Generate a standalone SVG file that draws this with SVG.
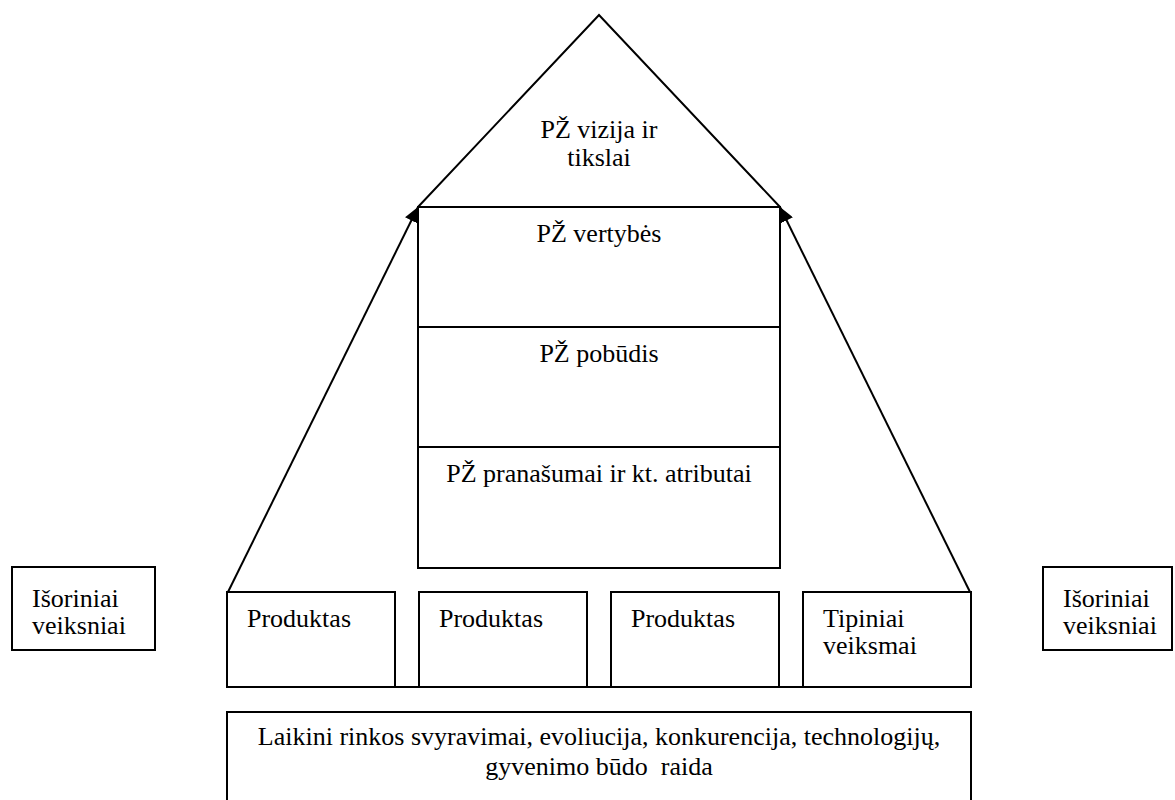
<svg xmlns="http://www.w3.org/2000/svg" width="1175" height="800" viewBox="0 0 1175 800">
<style>
.b{fill:#fff;stroke:#000;stroke-width:2}
.l{fill:none;stroke:#000;stroke-width:2}
text{font-family:"Liberation Serif","Times New Roman",serif;font-size:26px;fill:#000}
.c{text-anchor:middle}
</style>
<defs>
<marker id="ah" markerUnits="userSpaceOnUse" markerWidth="16" markerHeight="14" refX="15" refY="7" orient="auto">
<path d="M0,0 L15,7 L0,14 Z" fill="#000"/>
</marker>
</defs>
<rect width="1175" height="800" fill="#fff"/>
<g id="roof">
<path class="l" d="M418,207 L599,15 L780,207"/>
<text class="c" x="599" y="138">PŽ vizija ir</text>
<text class="c" x="599" y="166">tikslai</text>
</g>
<g id="vertybes">
<rect class="b" x="418" y="207" width="362" height="120"/>
<text class="c" x="599" y="242">PŽ vertybės</text>
</g>
<g id="pobudis">
<rect class="b" x="418" y="327" width="362" height="120"/>
<text class="c" x="599" y="362">PŽ pobūdis</text>
</g>
<g id="pranasumai">
<rect class="b" x="418" y="447" width="362" height="121"/>
<text class="c" x="599" y="482">PŽ pranašumai ir kt. atributai</text>
</g>
<g id="produktas1">
<rect class="b" x="227" y="592" width="168" height="95"/>
<text x="247" y="627">Produktas</text>
</g>
<g id="produktas2">
<rect class="b" x="419" y="592" width="168" height="95"/>
<text x="439" y="627">Produktas</text>
</g>
<g id="produktas3">
<rect class="b" x="611" y="592" width="168" height="95"/>
<text x="631" y="627">Produktas</text>
</g>
<g id="tipiniai">
<rect class="b" x="803" y="592" width="168" height="95"/>
<text x="823" y="627">Tipiniai</text>
<text x="823" y="654">veiksmai</text>
</g>
<g id="isoriniai-kaire">
<rect class="b" x="12" y="567" width="143" height="83"/>
<text x="32" y="607">Išoriniai</text>
<text x="32" y="634">veiksniai</text>
</g>
<g id="isoriniai-desine">
<rect class="b" x="1043" y="567" width="129" height="83"/>
<text x="1063" y="607">Išoriniai</text>
<text x="1063" y="634">veiksniai</text>
</g>
<g id="laikini">
<rect class="b" x="227" y="712" width="744" height="100"/>
<text class="c" x="599" y="745">Laikini rinkos svyravimai, evoliucija, konkurencija, technologijų,</text>
<text class="c" x="599" y="775" xml:space="preserve">gyvenimo būdo  raida</text>
</g>
<g id="connectors">
<line class="l" x1="227" y1="687" x2="971" y2="687"/>
<line class="l" x1="228" y1="592" x2="418" y2="207" marker-end="url(#ah)"/>
<line class="l" x1="970" y1="592" x2="780" y2="207" marker-end="url(#ah)"/>
</g>
</svg>
